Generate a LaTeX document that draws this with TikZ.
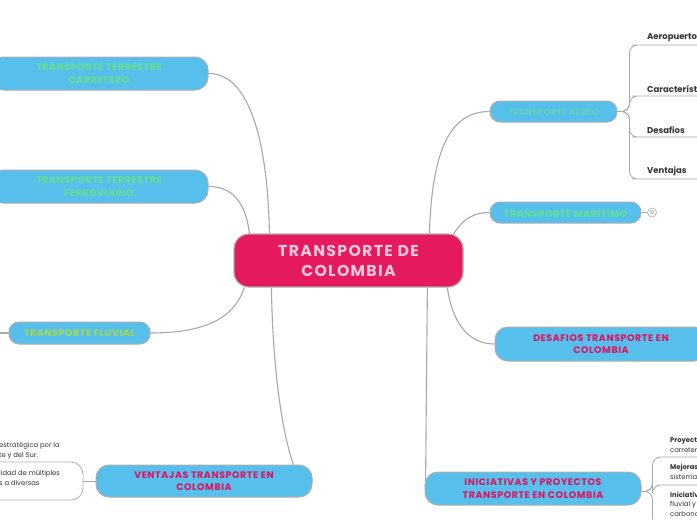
\documentclass[tikz,border=0pt]{standalone}
\usepackage{fontspec}
\setmainfont{Poppins}
\newfontfamily\capsfont{Poppins}[LetterSpace=6]
\newfontfamily\centerfont{Poppins}[LetterSpace=8]
\usetikzlibrary{backgrounds}
\definecolor{nodeblue}{HTML}{57BFEC}
\definecolor{centerpink}{HTML}{E5195E}
\definecolor{lightpink}{HTML}{F8C6DA}
\definecolor{mintgreen}{HTML}{62E28C}
\definecolor{limegreen}{HTML}{A6D84C}
\definecolor{hotpink}{HTML}{E0115F}
\definecolor{edgegray}{HTML}{A8A8A8}
\definecolor{bordergray}{HTML}{ADADAD}
\definecolor{textdark}{HTML}{333333}
\begin{document}
\begin{tikzpicture}[x=1pt,y=-1pt,
  topic/.style={draw=bordergray,line width=1pt,fill=nodeblue,rounded corners=13pt,inner sep=0pt,align=center,font=\capsfont\bfseries\fontsize{9.5}{12.3}\selectfont},
  smalltopic/.style={topic,rounded corners=10pt},
  conn/.style={draw=edgegray,line width=1.1pt},
  subconn/.style={draw=edgegray,line width=0.8pt,rounded corners=8pt},
  leaf/.style={inner xsep=7pt,inner ysep=3pt,anchor=south west,text=textdark,font=\bfseries\fontsize{8.5}{10}\selectfont},
  note/.style={inner sep=0pt,anchor=west,align=left,text=textdark,font=\fontsize{6.8}{9.5}\selectfont}
]
\useasboundingbox (0,0) rectangle (697,520);
\clip (0,0) rectangle (697,520);

% central topic
\node[draw=bordergray,line width=1.2pt,fill=centerpink,rounded corners=15pt,minimum width=229pt,minimum height=53pt,inner sep=0pt,align=center,text=lightpink,font=\centerfont\bfseries\fontsize{15.8}{20}\selectfont] (ctr) at (348.5,260.5) {TRANSPORTE DE\\COLOMBIA};

% left topics
\node[topic,minimum width=218pt,minimum height=33pt,text=mintgreen] (carr) at (99,73.5) {TRANSPORTE TERRESTRE\\CARRETERO};
\node[topic,minimum width=218pt,minimum height=33pt,text=mintgreen] (ferr) at (99,186.5) {TRANSPORTE TERRESTRE\\FERROVIARIO};
\node[smalltopic,minimum width=141pt,minimum height=22pt,text=limegreen] (fluv) at (79.5,333) {TRANSPORTE FLUVIAL};
\node[topic,minimum width=216pt,minimum height=32pt,text=hotpink] (vent) at (204,481) {VENTAJAS TRANSPORTE EN\\COLOMBIA};

% right topics
\node[smalltopic,minimum width=127pt,minimum height=21pt,text=mintgreen,font=\capsfont\fontsize{8.8}{10}\selectfont] (aereo) at (553.5,111.5) {TRANSPORTE AÉREO};
\node[smalltopic,minimum width=151pt,minimum height=21pt,text=mintgreen] (mari) at (565.5,212.5) {TRANSPORTE MARÍTIMO};
\node[topic,minimum width=212pt,minimum height=34pt,text=hotpink] (desaf) at (601,344) {DESAFIOS TRANSPORTE EN\\COLOMBIA};
\node[topic,minimum width=216pt,minimum height=33pt,text=hotpink] (inic) at (533,488.5) {INICIATIVAS Y PROYECTOS\\TRANSPORTE EN COLOMBIA};

% collapsed counter
\node[circle,draw=bordergray,fill=white,line width=0.6pt,minimum size=9pt,inner sep=0pt,text=gray,font=\fontsize{5}{5}\selectfont] (mcount) at (652,212.5) {10};

% aereo children
\node[leaf] (a1) at (640,45) {Aeropuertos};
\node[leaf] (a2) at (640,96) {Características};
\node[leaf] (a3) at (640,137) {Desafios};
\node[leaf] (a4) at (640,179) {Ventajas};
\coordinate (aend1) at (720,45);
\coordinate (aend2) at (720,96);
\coordinate (aend3) at (720,137);
\coordinate (aend4) at (720,179);

% iniciativas children
\node[note] (i1) at (670,445) {\textbf{Proyectos}\\carreteras};
\node[note] (i2) at (670,472) {\textbf{Mejoras}\\sistema};
\node[note] (i3) at (670,504) {\textbf{Iniciativas}\\fluvial y\\carbono};
\coordinate (iend1) at (720,457);
\coordinate (iend2) at (720,485);
\coordinate (iend3) at (720,526);

% ventajas children (left, cut off)
\node[note] (v1) at (-1,450.5) {estratégica por la\\te y del Sur.};
\node[draw=bordergray,line width=0.8pt,fill=white,rounded corners=12pt,minimum width=113pt,minimum height=38pt,inner sep=0pt] (v2) at (26.5,481) {};
\node[note] (v2t) at (-1,478) {lidad de múltiples\\s a diversas};

\coordinate (fl0) at (-5,333);

\begin{scope}[on background layer]
  \draw[conn] (carr.east) .. controls (252,73) and (268,150) .. ([xshift=36pt]ctr.north west);
  \draw[conn] (ferr.east) .. controls (238,186) and (247,212) .. ([xshift=16pt]ctr.north west);
  \draw[conn] (fluv.east) .. controls (215,333) and (236,312) .. ([xshift=11pt]ctr.south west);
  \draw[conn] (fl0) -- (fluv.west);
  \draw[conn] ([xshift=38pt]ctr.south west) .. controls (273,380) and (284,440) .. ([xshift=199pt,yshift=-3pt]vent.north west);
  \draw[conn] ([xshift=196pt]ctr.north west) .. controls (432,150) and (450,111.5) .. (aereo.west);
  \draw[conn] ([xshift=219pt,yshift=-3pt]ctr.north west) .. controls (462,218) and (475,212.5) .. (mari.west);
  \draw[conn] ([xshift=214pt]ctr.south west) .. controls (452,322) and (468,344) .. (desaf.west);
  \draw[conn] ([xshift=194pt]ctr.south west) -- ([xshift=1pt]inic.west);
  \draw[conn,line width=0.8pt] (mari.east) -- (mcount.west);
  % aereo tree
  \draw[subconn] (aereo.east) -- ++(12,0) |- (a1.south west) -- (aend1);
  \draw[subconn] (aereo.east) -- ++(12,0) |- (a2.south west) -- (aend2);
  \draw[subconn] (aereo.east) -- ++(12,0) |- (a3.south west) -- (aend3);
  \draw[subconn] (aereo.east) -- ++(12,0) |- (a4.south west) -- (aend4);
  % iniciativas tree
  \draw[subconn] ([yshift=-3pt]inic.east) -- ++(11,0) |- (iend1);
  \draw[subconn] ([yshift=-3pt]inic.east) -- ++(11,0) |- (iend2);
  \draw[subconn] ([yshift=-3pt]inic.east) -- ++(11,0) |- (iend3);
  % ventajas left
  \draw[conn,line width=0.8pt] (v2.east) -- (vent.west);
\end{scope}
\end{tikzpicture}
\end{document}
